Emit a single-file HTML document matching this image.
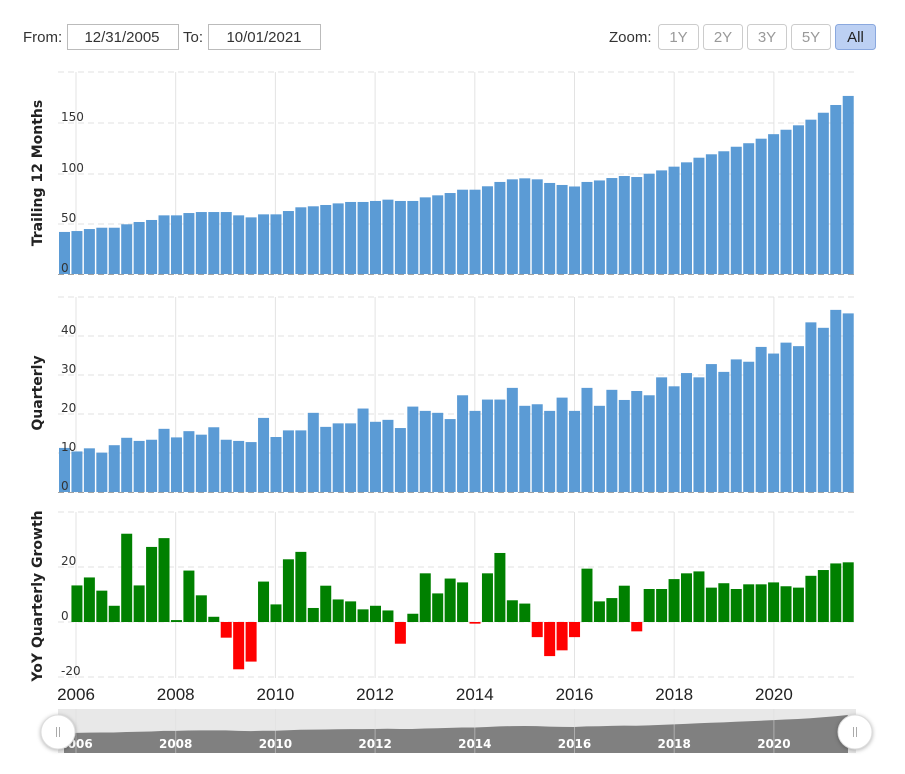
<!DOCTYPE html>
<html><head><meta charset="utf-8">
<style>
html,body{margin:0;padding:0;background:#fff;width:905px;height:774px;overflow:hidden;font-family:"Liberation Sans",sans-serif;}
</style></head>
<body>
<svg id="s" width="905" height="774" xmlns="http://www.w3.org/2000/svg" font-family="Liberation Sans, sans-serif">
<text x="23" y="42" font-size="15" fill="#333">From:</text>
<rect x="67.5" y="24.5" width="111" height="25" fill="#fff" stroke="#bbb"/>
<text x="122" y="42" font-size="15" fill="#333" text-anchor="middle">12/31/2005</text>
<text x="183" y="42" font-size="15" fill="#333">To:</text>
<rect x="208.5" y="24.5" width="112" height="25" fill="#fff" stroke="#bbb"/>
<text x="264" y="42" font-size="15" fill="#333" text-anchor="middle">10/01/2021</text>
<text x="609" y="42" font-size="15" fill="#333">Zoom:</text>
<g font-size="15" text-anchor="middle">
<rect x="658.5" y="24.5" width="40" height="25" rx="3" fill="#fff" stroke="#ccc"/><text x="678.5" y="42" fill="#999">1Y</text>
<rect x="703.5" y="24.5" width="39" height="25" rx="3" fill="#fff" stroke="#ccc"/><text x="723" y="42" fill="#999">2Y</text>
<rect x="747.5" y="24.5" width="39" height="25" rx="3" fill="#fff" stroke="#ccc"/><text x="767" y="42" fill="#999">3Y</text>
<rect x="791.5" y="24.5" width="39" height="25" rx="3" fill="#fff" stroke="#ccc"/><text x="811" y="42" fill="#999">5Y</text>
<rect x="835.5" y="24.5" width="40" height="25" rx="3" fill="#bcd0f3" stroke="#8aa8de"/><text x="855.5" y="42" fill="#222">All</text>
</g>
<g id="g"></g>
</svg>
<script>
var ttm=[41.8,42.7,44.7,46,46,49.4,51.7,53.7,58.3,58.3,60.6,61.6,61.6,61.6,58.3,56.3,59.3,59.3,62.6,66.3,67.3,
68.6,70.2,71.6,71.6,72.6,73.9,72.6,72.6,76.2,78.2,80.5,83.8,83.8,87.2,91.5,94.1,95.1,94.1,90.5,88.5,87,
91.5,93,95.4,97.4,96.4,99.7,103,106.7,111,115.6,119,122,126.5,130,134.5,139,143.4,147.8,153.4,160.3,168,177];
var q=[11.3,10.4,11.2,10.1,12,13.9,13.1,13.4,16.2,14,15.6,14.7,16.6,13.4,13.1,12.8,19,14.1,15.8,15.8,20.3,
16.7,17.6,17.6,21.4,18,18.5,16.4,21.9,20.8,20.3,18.7,24.8,20.8,23.7,23.7,26.7,22.1,22.5,20.8,
24.2,20.8,26.7,22.1,26.2,23.6,25.9,24.8,29.4,27.1,30.5,29.4,32.8,30.8,34,33.4,37.2,35.5,38.3,37.4,43.5,42.1,46.7,45.8];
var gr=[null,13.3,16.2,11.4,5.9,32.1,13.3,27.3,30.5,0.7,18.7,9.7,1.9,-5.7,-17.2,-14.4,14.7,6.4,22.8,25.5,
5.1,13.2,8.2,7.5,4.6,5.9,4.2,-7.9,3,17.7,10.4,15.8,14.4,-0.6,17.7,25.1,7.9,6.7,-5.5,-12.4,-10.3,-5.5,
19.4,7.5,8.7,13.2,-3.4,12,12,15.6,17.7,18.4,12.5,14.1,12,13.7,13.7,14.4,13,12.5,16.8,18.9,21.3,21.7];
var h='';
function X(i){return 59+12.44*i;}
var yrs=[2006,2008,2010,2012,2014,2016,2018,2020];
function vx(i){return 76+99.7*i;}
function panel(top,bot,grids,title,ty){
 for(var k=0;k<8;k++)h+='<line x1="'+vx(k)+'" x2="'+vx(k)+'" y1="'+top+'" y2="'+bot+'" stroke="#e3e3e3"/>';
 grids.forEach(function(y){h+='<line x1="58" x2="855" y1="'+y+'" y2="'+y+'" stroke="#e0e0e0" stroke-dasharray="6,4"/>';});
 h+='<text transform="translate(42,'+ty+') rotate(-90)" font-family="DejaVu Sans, sans-serif" font-size="14" font-weight="bold" fill="#222" text-anchor="middle">'+title+'</text>';
}
function labels(ls){ls.forEach(function(l){h+='<text x="61" y="'+(l[1]-2)+'" font-family="DejaVu Sans, sans-serif" font-size="12" fill="#333">'+l[0]+'</text>';});}
panel(72,275,[72,123,174,224],"Trailing 12 Months",173);
ttm.forEach(function(v,i){var y=274-v*1.006;h+='<rect x="'+X(i)+'" y="'+y+'" width="11" height="'+(274-y)+'" fill="#5b9bd5"/>';});
h+='<line x1="58" x2="855" y1="274.5" y2="274.5" stroke="#666" stroke-dasharray="6,4" opacity=".6"/>';
labels([["150",123],["100",174],["50",224],["0",274]]);
panel(297,493,[297,336,375,414,453],"Quarterly",393);
q.forEach(function(v,i){var y=492-v*3.9;h+='<rect x="'+X(i)+'" y="'+y+'" width="11" height="'+(492-y)+'" fill="#5b9bd5"/>';});
h+='<line x1="58" x2="855" y1="492.5" y2="492.5" stroke="#666" stroke-dasharray="6,4" opacity=".6"/>';
labels([["40",336],["30",375],["20",414],["10",453],["0",492]]);
panel(512,678,[512,567,622,677],"YoY Quarterly Growth",596);
gr.forEach(function(v,i){if(v===null)return;var y=622-v*2.75;var c=v<0?'#ff0000':'#008000';
 h+='<rect x="'+X(i)+'" y="'+Math.min(y,622)+'" width="11" height="'+Math.max(Math.abs(622-y),1.5)+'" fill="'+c+'"/>';});
labels([["20",567],["0",622],["-20",677]]);
yrs.forEach(function(y,k){h+='<text x="'+vx(k)+'" y="700" font-size="17" fill="#222" text-anchor="middle">'+y+'</text>';});
h+='<rect x="58" y="709" width="798" height="44" fill="#e8e8e8"/>';
var p='M64,753';ttm.forEach(function(v,i){p+=' L'+(64+i*12.44)+','+(753-(14.4+0.133*v));});p+=' L848,753 Z';
h+='<path d="'+p+'" fill="#808080"/>';
for(var k=0;k<8;k++)h+='<line x1="'+vx(k)+'" x2="'+vx(k)+'" y1="709" y2="753" stroke="#ddd" opacity=".5"/>';
yrs.forEach(function(y,k){h+='<text x="'+vx(k)+'" y="748" font-family="DejaVu Sans, sans-serif" font-size="12" font-weight="bold" fill="#fff" text-anchor="middle">'+y+'</text>';});
[58,855].forEach(function(cx){h+='<circle cx="'+cx+'" cy="732" r="17" fill="#fff" stroke="#ddd" style="filter:drop-shadow(0 1px 2px rgba(0,0,0,.3))"/>';
 h+='<line x1="'+(cx-1.5)+'" x2="'+(cx-1.5)+'" y1="727" y2="737" stroke="#aaa"/><line x1="'+(cx+1.5)+'" x2="'+(cx+1.5)+'" y1="727" y2="737" stroke="#aaa"/>';});
document.getElementById('g').innerHTML=h;
</script>
</body></html>
